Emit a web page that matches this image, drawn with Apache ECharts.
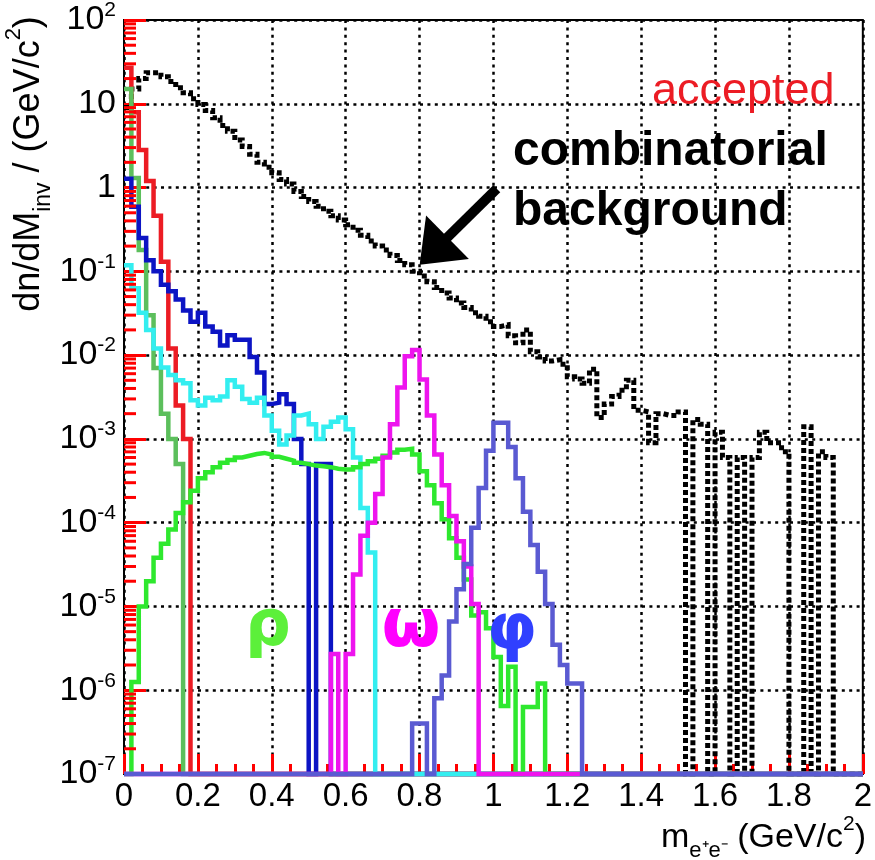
<!DOCTYPE html>
<html><head><meta charset="utf-8">
<script src="https://cdn.jsdelivr.net/npm/echarts@6/dist/echarts.min.js"></script>
<style>html,body{margin:0;padding:0;background:#fff}#c{width:875px;height:860px}</style>
</head><body><div id="c"></div>
<script>
// ---------- axis setup ----------
const binWidth = 0.02;      // GeV/c^2
const nBins = 100;
const xMin = 0, xMax = 2, xInterval = 0.2;
const yMin = 1e-7, yMax = 100;
const yMinorTickMultipliers = [2, 3, 4, 5, 6, 7, 8, 9];
const yDecades = [-7, -6, -5, -4, -3, -2, -1, 0, 1];
const TICK_COLOR = '#ff0000';   // debug colour to check tick visibility

// ---------- histogram contents (dn/dM per 0.02 GeV bin, 0 = empty bin) ----------
const combinatorialBins = [
  9, 15, 20, 23.5, 23.5, 21, 18.5, 15.5, 13.5, 11.5,
  9.8, 8.3, 6.8, 5.5, 4.7, 3.7, 3.1, 2.5, 2.0, 1.75,
  1.5, 1.25, 1.1, 0.9, 0.78, 0.68, 0.6, 0.52, 0.46, 0.41,
  0.36, 0.31, 0.27, 0.23, 0.2, 0.18, 0.155, 0.135, 0.12, 0.1,
  0.088, 0.075, 0.064, 0.055, 0.048, 0.042, 0.037, 0.032, 0.029, 0.025,
  0.022, 0.023, 0.017, 0.014, 0.02, 0.011, 0.0095, 0.0085, 0.0088, 0.0078,
  0.0055, 0.0052, 0.0046, 0.0068, 0.0018, 0.0026, 0.0032, 0.0038, 0.005, 0.0022,
  0.0021, 0.0009, 0.002, 0.0019, 0.0019, 0.0021, 0, 0.0017, 0.0015, 0,
  0.0012, 0.0006, 0, 0.0006, 0, 0.0006, 0.0012, 0.0009, 0.0009, 0.0007,
  0, 0, 0.0014, 0, 0.0007, 0.0006, 0, 0, 0, 0
];
const redBins = [27, 7.9, 2.8, 1.2, 0.46, 0.13, 0.012, 0.0025, 0.001];
const dullGreenBins = [15, 1.3, 0.18, 0.03, 0.007, 0.002, 0.001, 0.0005];
const blueBins = [
  1.27, 0.59, 0.25, 0.136, 0.1, 0.069, 0.058, 0.046, 0.034, 0.025,
  0.032, 0.022, 0.019, 0.013, 0.0173, 0.0153, 0.0153, 0.0095, 0.0062, 0.0026,
  0.0027, 0.0034, 0.0026, 0.001, 0.0005, 0, 0.0005, 0.0005
];
const cyanBins = [
  0.118, 0.063, 0.032, 0.02, 0.012, 0.0071, 0.0058, 0.005, 0.0046, 0.0029,
  0.0025, 0.0031, 0.0029, 0.0032, 0.005, 0.0042, 0.003, 0.0027, 0.0031, 0.0019,
  0.00125, 0.00086, 0.0011, 0.0019, 0.002, 0.0015, 0.001, 0.0014, 0.0016, 0.0018,
  0.0013, 0.0006, 0.00015, 0.000044
];
const rhoBins = [
  0, 1.25e-6, 1.0e-5, 2.0e-5, 3.8e-5, 5.6e-5, 8.3e-5, 1.3e-4, 1.75e-4, 2.4e-4,
  3.4e-4, 4.0e-4, 4.6e-4, 5.2e-4, 5.6e-4, 6.0e-4, 6.3e-4, 6.6e-4, 6.8e-4, 6.5e-4,
  6.1e-4, 5.8e-4, 5.5e-4, 5.2e-4, 5.0e-4, 4.8e-4, 4.7e-4, 4.6e-4, 4.4e-4, 4.3e-4,
  4.3e-4, 4.6e-4, 5.0e-4, 5.4e-4, 5.8e-4, 6.3e-4, 6.9e-4, 7.4e-4, 7.6e-4, 6.5e-4,
  4.1e-4, 2.8e-4, 1.7e-4, 1.1e-4, 6.5e-5, 3.8e-5, 2.1e-5, 7.8e-6, 8.5e-6, 5.5e-6,
  2.5e-6, 6.5e-7, 1.9e-6, 0, 6.3e-7, 6.3e-7, 1.2e-6
];
const omegaFirstBin = 28;
const omegaBins = [
  2.7e-6, 0, 2.7e-6, 2.4e-5, 7e-5, 1.0e-4, 2.2e-4, 6e-4, 1.5e-3, 4.1e-3,
  0.0097, 0.0115, 0.0051, 0.0019, 6.5e-4, 2.8e-4, 1.2e-4, 6e-5, 3e-5, 1.07e-5
];
const phiFirstBin = 39;
const phiBins = [
  4e-7, 4e-7, 0, 8e-7, 1.5e-6, 6.6e-6, 1.6e-5, 3.2e-5, 8.7e-5, 2.6e-4,
  7.2e-4, 1.56e-3, 1.56e-3, 8e-4, 3.4e-4, 1.35e-4, 5.4e-5, 2.6e-5, 1.07e-5, 3.5e-6,
  2e-6, 1.2e-6, 1.2e-6
];

// ---------- helpers ----------
function placeBins(firstBin, vals) {
  const out = new Array(nBins).fill(0);   // empty bins
  vals.forEach((v, i) => { out[firstBin + i] = v; });
  return out;
}
function histPoints(vals) {
  const full = vals.length === nBins ? vals : placeBins(0, vals);
  const pts = full.map((v, i) => [+(xMin + i * binWidth).toFixed(2), v > 0 ? v : yMin]);
  const last = full[nBins - 1];
  pts.push([xMax, last > 0 ? last : yMin]);
  return pts;
}

const histos = [
  { name: 'combinatorial background', vals: combinatorialBins, color: '#000000', width: 5, dash: [5, 3] },
  { name: 'red', vals: redBins, color: '#ec1c24', width: 4.5 },
  { name: 'dull green', vals: dullGreenBins, color: '#5cbf5c', width: 4.5 },
  { name: 'blue', vals: blueBins, color: '#0c14c4', width: 4.5 },
  { name: 'cyan', vals: cyanBins, color: '#33eef0', width: 4.5 },
  { name: 'rho', vals: rhoBins, color: '#2ee82e', width: 4.5 },
  { name: 'omega', vals: placeBins(omegaFirstBin, omegaBins), color: '#ee14ee', width: 4.5 },
  { name: 'phi', vals: placeBins(phiFirstBin, phiBins), color: '#5a5ad2', width: 4.5 }
];

const minorTickVals = [];
yDecades.forEach(e => yMinorTickMultipliers.forEach(m => minorTickVals.push(m * Math.pow(10, e))));

const FONT = '"Liberation Sans", Arial, Helvetica, sans-serif';
const GREEK = '"DejaVu Sans", "Liberation Sans", sans-serif';

const series = histos.map((h, idx) => {
  const s = {
    name: h.name, type: 'line', step: 'end', showSymbol: false, symbol: 'none',
    clip: false, silent: true, z: 2 + idx,
    lineStyle: { color: h.color, width: h.width, type: h.dash || 'solid', cap: 'butt', join: 'miter' },
    data: histPoints(h.vals)
  };
  if (idx === 0) {
    s.markLine = {
      silent: true, symbol: ['none', 'triangle'], symbolSize: [61, 39],
      label: { show: false },
      lineStyle: { type: 'solid', width: 10, color: '#000' },
      itemStyle: { color: '#000' },
      data: [[{ coord: [1.009, 0.967] }, { coord: [0.838, 0.175] }]]
    };
  }
  return s;
});
series.push({
  type: 'scatter', silent: true, z: 30, clip: false,
  symbol: 'rect', symbolSize: [12, 3], symbolOffset: [6, 0],
  itemStyle: { color: TICK_COLOR, opacity: 1 },
  data: minorTickVals.map(v => [xMin, v])
});

const chart = echarts.init(document.getElementById('c'), null, { renderer: 'canvas' });
chart.setOption({
  animation: false,
  backgroundColor: '#fff',
  grid: { left: 124, right: 9, top: 17, bottom: 86, show: true, borderColor: '#000', borderWidth: 2, backgroundColor: 'transparent' },
  xAxis: {
    type: 'value', min: xMin, max: xMax, interval: xInterval,
    axisLine: { show: true, onZero: false, lineStyle: { color: '#000', width: 2 } },
    axisTick: { show: true, inside: true, length: 20, lineStyle: { color: TICK_COLOR, width: 3 } },
    minorTick: { show: true, splitNumber: 4, length: 10, lineStyle: { color: TICK_COLOR, width: 3 } },
    splitLine: { show: true, lineStyle: { color: '#000', width: 2.5, type: [3, 4.4] } },
    axisLabel: { show: true, color: '#000', fontSize: 33, fontFamily: FONT, margin: 6 }
  },
  yAxis: {
    type: 'log', logBase: 10, min: yMin, max: yMax,
    axisLine: { show: true, onZero: false, lineStyle: { color: '#000', width: 2 } },
    axisTick: { show: true, inside: true, length: 22, lineStyle: { color: TICK_COLOR, width: 3 } },
    splitLine: { show: true, lineStyle: { color: '#000', width: 2.5, type: [3, 4.4] } },
    axisLabel: {
      show: true, margin: 8, color: '#000',
      formatter: v => {
        const e = Math.round(Math.log10(v));
        if (e === 0) return '{b|1}';
        if (e === 1) return '{b|10}';
        return '{b|10}{s|' + e + '}';
      },
      rich: {
        b: { fontSize: 34, fontFamily: FONT, color: '#000', lineHeight: 40 },
        s: { fontSize: 21, fontFamily: FONT, color: '#000', lineHeight: 22, verticalAlign: 'top' }
      }
    }
  },
  graphic: [
    { type: 'text', x: 652, y: 92, silent: true, z: 50,
      style: { text: 'accepted', fill: '#ec1c24', fontSize: 45, fontFamily: FONT, align: 'left', verticalAlign: 'middle' } },
    { type: 'text', x: 513, y: 152, silent: true, z: 50,
      style: { text: 'combinatorial', fill: '#000', fontSize: 48, fontWeight: 'bold', fontFamily: FONT, align: 'left', verticalAlign: 'middle' } },
    { type: 'text', x: 513, y: 212, silent: true, z: 50,
      style: { text: 'background', fill: '#000', fontSize: 48, fontWeight: 'bold', fontFamily: FONT, align: 'left', verticalAlign: 'middle' } },
    { type: 'text', x: 268, y: 628, silent: true, z: 50,
      style: { text: 'ρ', fill: '#5cf03a', fontSize: 64, fontWeight: 'bold', fontFamily: GREEK, align: 'center', verticalAlign: 'middle' } },
    { type: 'text', x: 411, y: 628, silent: true, z: 50,
      style: { text: 'ω', fill: '#ff00ff', fontSize: 68, fontWeight: 'bold', fontFamily: GREEK, align: 'center', verticalAlign: 'middle' } },
    { type: 'text', x: 512, y: 632, silent: true, z: 50,
      style: { text: 'φ', fill: '#3040ff', fontSize: 64, fontWeight: 'bold', fontFamily: GREEK, align: 'center', verticalAlign: 'middle' } },
    { type: 'text', x: 866, y: 814, silent: true, z: 50,
      style: {
        text: '{m|m}{sub|e⁺e⁻}{m| (GeV/c}{sup|2}{m|)}', align: 'right', verticalAlign: 'top',
        rich: {
          m: { fontSize: 34, fontFamily: FONT, color: '#000', lineHeight: 48 },
          sub: { fontSize: 22, fontFamily: FONT, color: '#000', lineHeight: 22, verticalAlign: 'bottom' },
          sup: { fontSize: 21, fontFamily: FONT, color: '#000', lineHeight: 22, verticalAlign: 'top' }
        }
      } },
    { type: 'text', x: 3, y: 164, rotation: Math.PI / 2, silent: true, z: 50,
      style: {
        text: '{m|dn/dM}{sub|inv}{m| / (GeV/c}{sup|2}{m|)}', align: 'center', verticalAlign: 'top',
        rich: {
          m: { fontSize: 36, fontFamily: FONT, color: '#000', lineHeight: 52 },
          sub: { fontSize: 23, fontFamily: FONT, color: '#000', lineHeight: 22, verticalAlign: 'bottom' },
          sup: { fontSize: 22, fontFamily: FONT, color: '#000', lineHeight: 22, verticalAlign: 'top' }
        }
      } }
  ],
  series: series
});
</script>
</body></html>
